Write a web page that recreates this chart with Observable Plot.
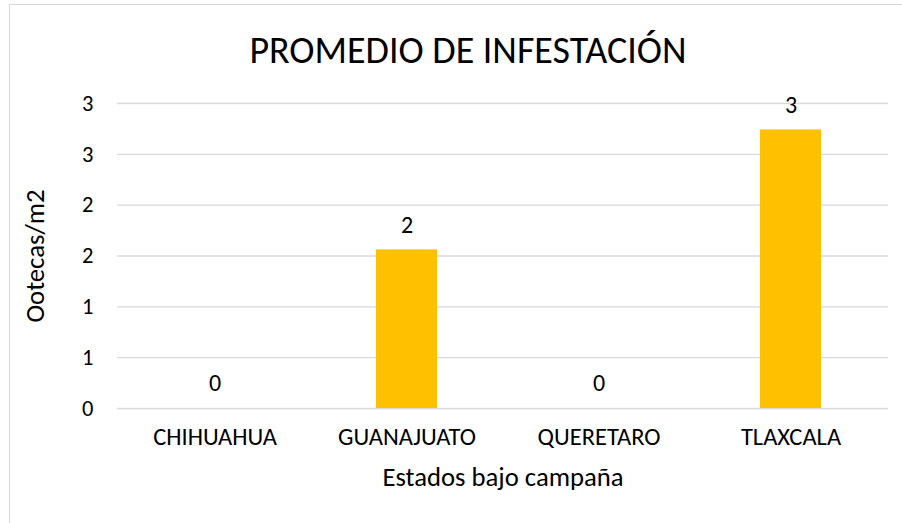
<!DOCTYPE html>
<html>
<head>
<meta charset="utf-8">
<script src="https://cdn.jsdelivr.net/npm/d3@7"></script>
<script src="https://cdn.jsdelivr.net/npm/@observablehq/plot@0.6"></script>
<style>
  html, body { margin: 0; padding: 0; background: #fff; overflow: hidden; }
  #wrap { position: relative; width: 902px; height: 523px; overflow: hidden; font-family: Carlito, Calibri, Lato, sans-serif; }
  #frame { position: absolute; left: 9px; top: 4px; width: 910px; height: 540px; border: 1.5px solid #d9d9d9; box-sizing: border-box; }
  #title { position: absolute; left: 17px; width: 902px; top: 30px; text-align: center; font-size: 38px; color: #000; line-height: 40px; }
  #chart { position: absolute; left: 0; top: 80px; }
</style>
</head>
<body>
<div id="wrap">
  <div id="frame"></div>
  <div id="title">PROMEDIO DE INFESTACIÓN</div>
  <div id="chart"></div>
</div>
<script>
const categories = ["CHIHUAHUA", "GUANAJUATO", "QUERETARO", "TLAXCALA"];
const values = [0, 1.56, 0, 2.74];
const yTickValues = [0, 0.5, 1, 1.5, 2, 2.5, 3];
const yTickLabels = ["0", "1", "1", "2", "2", "3", "3"];
const xTitle = "Estados bajo campaña";
const yTitle = "Ootecas/m2";

const data = categories.map((c, i) => ({ estado: c, valor: values[i] }));
const fmt = d3.format(".0f");
const font = "Carlito, Calibri, Lato, sans-serif";

const plot = Plot.plot({
  width: 902,
  height: 443,
  marginTop: 23,
  marginBottom: 115,
  marginLeft: 117,
  marginRight: 14,
  style: { fontFamily: font, color: "#000", background: "transparent" },
  x: { type: "band", domain: categories, paddingInner: 0.684, paddingOuter: 0.342 },
  y: { domain: [0, 3] },
  marks: [
    Plot.gridY(yTickValues, { stroke: "#d9d9d9", strokeOpacity: 1, strokeWidth: 1.3 }),
    Plot.barY(data, { x: "estado", y: "valor", fill: "#FFC000" }),
    Plot.text(data, { x: "estado", y: "valor", text: d => fmt(d.valor), dy: -25, fontSize: 24, fill: "#000" }),
    Plot.axisY({ ticks: yTickValues, tickFormat: (d, i) => yTickLabels[i], tickSize: 0, tickPadding: 24, fontSize: 22.5,
      label: yTitle, labelAnchor: "center", labelOffset: 92, labelArrow: "none" }),
    Plot.axisX({ tickSize: 0, tickPadding: 19, fontSize: 24.5, label: xTitle, labelAnchor: "center", labelOffset: 77 }),
  ]
});
plot.querySelectorAll("[aria-label='y-axis label'], [aria-label='x-axis label']").forEach(g => {
  g.setAttribute("font-size", "26.7");
  g.querySelectorAll("text").forEach(t => t.style.fontSize = "26.7px");
});
document.getElementById("chart").appendChild(plot);
</script>
</body>
</html>
